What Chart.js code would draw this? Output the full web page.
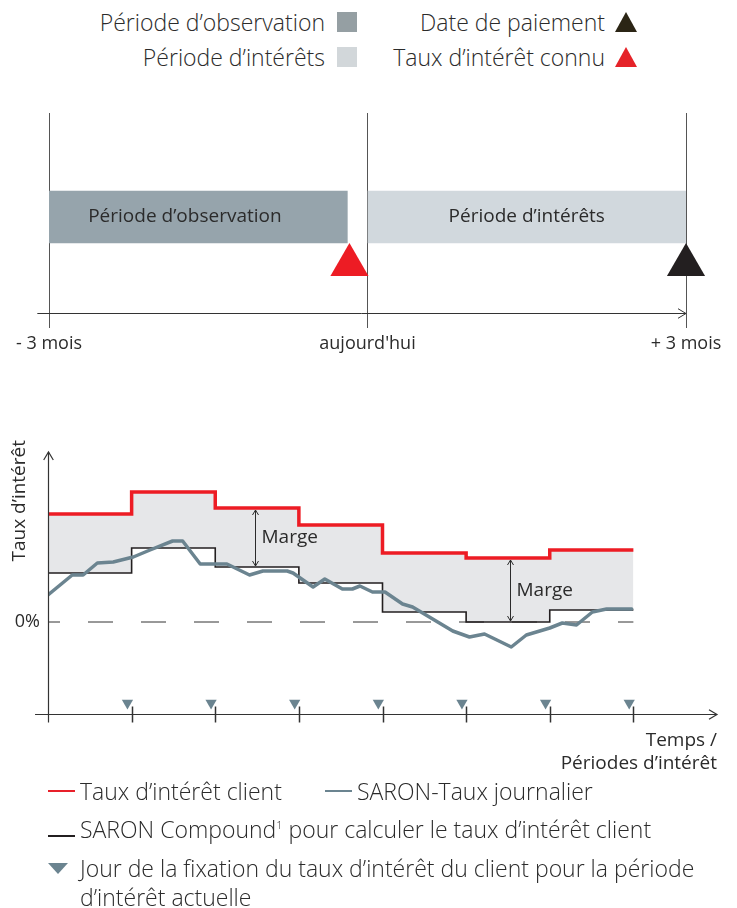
<!DOCTYPE html>
<html lang="fr">
<head>
<meta charset="utf-8">
<script src="https://cdn.jsdelivr.net/npm/chart.js@4.4.0/dist/chart.umd.min.js"></script>
<style>
  body { margin: 0; background: #fff; font-family: "Open Sans", sans-serif; color: #2b2b2b; }
  #page { position: relative; width: 737px; height: 908px; overflow: hidden; }
  .box { position: absolute; }
  .row { position: absolute; display: flex; align-items: center; font-size: 23px; line-height: 26px; white-space: nowrap; font-weight: 300; }
  .sq { width: 20px; height: 20px; display: inline-block; }
  .tri-up { width: 0; height: 0; border-left: 11px solid transparent; border-right: 11px solid transparent; border-bottom: 20px solid; }
  .tri-down { width: 0; height: 0; border-left: 10px solid transparent; border-right: 10px solid transparent; border-top: 11px solid #6b8490; }
  .ln { width: 27px; height: 2px; display: inline-block; }
  sup { font-size: 11px; vertical-align: 9px; line-height: 0; }
</style>
</head>
<body>
<div id="page">
  <!-- top legend -->
  <div class="row" style="right:380px; top:9px; gap:12px;">Période d’observation<span class="sq" style="background:#959fa3"></span></div>
  <div class="row" style="right:380px; top:44px; gap:12px;">Période d’intérêts<span class="sq" style="background:#d2d7da"></span></div>
  <div class="row" style="right:100px; top:9px; gap:10px;">Date de paiement<span class="tri-up" style="border-bottom-color:#2b2515"></span></div>
  <div class="row" style="right:100px; top:44px; gap:10px;">Taux d’intérêt connu<span class="tri-up" style="border-bottom-color:#e52329"></span></div>

  <div class="box" style="left:0; top:100px;"><canvas id="timeline" width="737" height="260"></canvas></div>
  <div class="box" style="left:0; top:440px;"><canvas id="rates" width="737" height="340"></canvas></div>

  <!-- bottom legend -->
  <div class="row" style="left:48px; top:778px; gap:5px;"><span class="ln" style="background:#e8202a"></span><span>Taux d’intérêt client</span></div>
  <div class="row" style="left:325px; top:778px; gap:5px;"><span class="ln" style="background:#6b8490"></span><span>SARON-Taux journalier</span></div>
  <div class="row" style="left:48px; top:816px; gap:5px;"><span class="ln" style="background:#231f20; margin-top:14px"></span><span>SARON Compound<sup>1</sup> pour calculer le taux d’intérêt client</span></div>
  <div class="row" style="left:48px; top:855px; gap:12px;"><span class="tri-down"></span><span>Jour de la fixation du taux d’intérêt du client pour la période</span></div>
  <div class="row" style="left:80px; top:884px;">d’intérêt actuelle</div>
</div>

<script>
Chart.defaults.font.family = "'Open Sans', sans-serif";
Chart.defaults.color = '#2b2b2b';

// ---- timeline data (months around today)
const monthTicks = [-3, 0, 3];
const monthLabels = ['- 3 mois', "aujourd'hui", '+ 3 mois'];
const periodNames = ['Période d’observation', 'Période d’intérêts'];
const periodStart = [-3, 0];
const periodEnd = [-0.19, 3];
const periodLabelAt = [-1.72, 1.5];
const eventMonths = [-0.17, 3];

// ---- interest rate data (x = interest periods, y = rate)
const periods = [0, 1, 2, 3, 4, 5, 6, 7];
const clientRate = [2.16, 2.6, 2.28, 1.94, 1.38, 1.28, 1.44];
const saronCompound = [0.98, 1.48, 1.1, 0.78, 0.2, 0, 0.24];
const saronDays = [0, 0.29, 0.42, 0.59, 0.78, 1.02, 1.22, 1.49, 1.61, 1.82, 2.14, 2.41, 2.57, 2.86, 2.93,
  3.17, 3.31, 3.52, 3.64, 3.73, 3.88, 4.03, 4.24, 4.36, 4.84, 5.04, 5.22, 5.54, 5.72, 6.0, 6.15, 6.32,
  6.51, 6.68, 6.98];
const saronDaily = [0.54, 0.94, 0.94, 1.18, 1.2, 1.3, 1.44, 1.62, 1.62, 1.16, 1.16, 0.94, 1.02, 1.02, 0.98,
  0.7, 0.86, 0.66, 0.66, 0.72, 0.6, 0.6, 0.36, 0.3, -0.18, -0.3, -0.24, -0.5, -0.26, -0.12, -0.02, -0.06,
  0.2, 0.26, 0.26];
const fixingDays = [1, 2, 3, 4, 5, 6, 7];
const marginAt = [2.47, 5.52];
const marginPeriod = [2, 5];

function stepPoints(levels) {
  return periods.map((p, i) => ({ x: p, y: levels[Math.min(i, levels.length - 1)] }));
}

function chevron(ctx, x, y, dx, dy, s) {
  // open arrow head pointing along (dx, dy)
  const px = -dy, py = dx;
  ctx.beginPath();
  ctx.moveTo(x - dx * s + px * s * 0.6, y - dy * s + py * s * 0.6);
  ctx.lineTo(x, y);
  ctx.lineTo(x - dx * s - px * s * 0.6, y - dy * s - py * s * 0.6);
  ctx.stroke();
}

// ---------- timeline chart ----------
const timelineDecor = {
  id: 'timelineDecor',
  afterDatasetsDraw(chart) {
    const { ctx, scales: { x, y } } = chart;
    const meta = chart.getDatasetMeta(0);
    ctx.save();
    ctx.font = "19px 'Open Sans', sans-serif";
    ctx.fillStyle = '#2b2b2b';
    ctx.textAlign = 'center';
    ctx.textBaseline = 'middle';
    meta.data.forEach((bar, i) => {
      ctx.fillText(periodNames[i], x.getPixelForValue(periodLabelAt[i]), bar.y);
    });
    // time axis with arrow
    const ay = y.getPixelForValue(0) + 0.5;
    ctx.strokeStyle = '#333';
    ctx.lineWidth = 1;
    ctx.beginPath();
    ctx.moveTo(x.getPixelForValue(-3.11), ay);
    ctx.lineTo(x.getPixelForValue(3), ay);
    ctx.stroke();
    chevron(ctx, x.getPixelForValue(3), ay, 1, 0, 8);
    ctx.restore();
  }
};

new Chart(document.getElementById('timeline'), {
  type: 'scatter',
  data: {
    datasets: [{
      type: 'bar',
      indexAxis: 'y',
      data: periodStart.map((s, i) => ({ x: [s, periodEnd[i]], y: 4.8 })),
      backgroundColor: ['#96a4ac', '#d1d8dd'],
      barThickness: 52,
      order: 2
    }, {
      type: 'scatter',
      data: eventMonths.map(m => ({ x: m, y: 2.4 })),
      pointStyle: 'triangle',
      pointRadius: 22,
      pointHoverRadius: 22,
      borderWidth: 0,
      backgroundColor: ['#ed1c24', '#231f20'],
      clip: false,
      order: 1
    }]
  },
  options: {
    responsive: false,
    animation: false,
    events: [],
    layout: { autoPadding: false, padding: { left: 49, right: 51, top: 13, bottom: 0 } },
    plugins: { legend: { display: false }, tooltip: { enabled: false } },
    scales: {
      x: {
        type: 'linear', min: -3, max: 3,
        afterBuildTicks: s => { s.ticks = monthTicks.map(v => ({ value: v })); },
        afterFit: s => { s.height = 47; s.paddingLeft = 0; s.paddingRight = 0; },
        border: { display: false },
        grid: { color: '#555', lineWidth: 1, tickLength: 15, drawOnChartArea: true },
        ticks: {
          autoSkip: false, maxRotation: 0, padding: 5,
          font: { size: 18 }, color: '#2b2b2b',
          callback: (v, i) => monthLabels[i]
        }
      },
      y: { type: 'linear', min: 0, max: 10, display: false, offset: false, grid: { offset: false } }
    }
  },
  plugins: [timelineDecor]
});

// ---------- interest rate chart ----------
const rateDecor = {
  id: 'rateDecor',
  afterDraw(chart) {
    const { ctx, chartArea, scales: { x, y } } = chart;
    const bx = x.getPixelForValue(0) + 0.5;
    const by = chartArea.bottom + 0.5;
    ctx.save();
    ctx.strokeStyle = '#333';
    ctx.lineWidth = 1.2;
    // x axis
    ctx.beginPath();
    ctx.moveTo(x.getPixelForValue(-0.155), by);
    ctx.lineTo(x.getPixelForValue(8), by);
    ctx.stroke();
    chevron(ctx, x.getPixelForValue(8), by, 1, 0, 8);
    // y axis
    const top = y.getPixelForValue(3.4);
    ctx.beginPath();
    ctx.moveTo(bx, by + 8);
    ctx.lineTo(bx, top);
    ctx.stroke();
    chevron(ctx, bx, top, 0, -1, 8);
    // period ticks
    ctx.lineWidth = 1.5;
    x.ticks.forEach(t => {
      if (t.value < 1 || t.value > 7) return;
      const px = Math.round(x.getPixelForValue(t.value)) + 0.5;
      ctx.beginPath();
      ctx.moveTo(px, by - 8);
      ctx.lineTo(px, by + 8);
      ctx.stroke();
    });
    // margin arrows
    ctx.lineWidth = 1;
    ctx.strokeStyle = '#2b2b2b';
    ctx.fillStyle = '#2b2b2b';
    ctx.font = "19px 'Open Sans', sans-serif";
    ctx.textBaseline = 'middle';
    marginAt.forEach((m, i) => {
      const p = marginPeriod[i];
      const mx = Math.round(x.getPixelForValue(m)) + 0.5;
      const y1 = y.getPixelForValue(clientRate[p]) + 2;
      const y2 = y.getPixelForValue(saronCompound[p]) - 1;
      ctx.beginPath();
      ctx.moveTo(mx, y1);
      ctx.lineTo(mx, y2);
      ctx.stroke();
      chevron(ctx, mx, y1, 0, -1, 5);
      chevron(ctx, mx, y2, 0, 1, 5);
      ctx.fillText('Marge', mx + 6, (y1 + y2) / 2);
    });
    ctx.restore();
  }
};

new Chart(document.getElementById('rates'), {
  type: 'line',
  data: {
    datasets: [{
      label: 'Taux d’intérêt client',
      data: stepPoints(clientRate),
      stepped: true,
      borderColor: '#ed1c24',
      borderWidth: 3.5,
      backgroundColor: '#e6e7e9',
      fill: 2,
      pointRadius: 0
    }, {
      label: 'SARON-Taux journalier',
      data: saronDays.map((d, i) => ({ x: d, y: saronDaily[i] })),
      borderColor: '#6b8490',
      borderWidth: 3.5,
      borderJoinStyle: 'round',
      borderCapStyle: 'round',
      pointRadius: 0,
      fill: false
    }, {
      label: 'SARON Compound',
      data: stepPoints(saronCompound),
      stepped: true,
      borderColor: '#231f20',
      borderWidth: 1.6,
      pointRadius: 0,
      fill: false
    }, {
      label: '0%',
      data: [{ x: 0, y: 0 }, { x: 7, y: 0 }],
      borderColor: '#333',
      borderWidth: 1,
      borderDash: [25, 28],
      borderDashOffset: 13,
      pointRadius: 0,
      fill: false
    }, {
      label: 'Fixation',
      data: fixingDays.map(d => ({ x: d - 0.05, y: -1.62 })),
      showLine: false,
      pointStyle: 'triangle',
      rotation: 180,
      pointRadius: 6.5,
      borderWidth: 0,
      backgroundColor: '#6b8490'
    }]
  },
  options: {
    responsive: false,
    animation: false,
    events: [],
    layout: { autoPadding: false, padding: { left: 0, right: 20, top: 0, bottom: 0 } },
    plugins: {
      legend: { display: false },
      tooltip: { enabled: false },
      filler: { drawTime: 'beforeDatasetsDraw' }
    },
    scales: {
      x: {
        type: 'linear', min: 0, max: 8,
        afterFit: s => { s.height = 66; s.paddingLeft = 0; s.paddingRight = 0; },
        ticks: { display: false, stepSize: 1 },
        grid: { display: false },
        border: { display: false },
        title: {
          display: true,
          text: ['Temps /', 'Périodes d’intérêt'],
          align: 'end',
          font: { size: 19, lineHeight: 1.2 },
          color: '#2b2b2b',
          padding: { top: 0, bottom: 5 }
        }
      },
      y: {
        type: 'linear', min: -1.84, max: 3.64,
        afterFit: s => { s.width = 48; s.paddingTop = 0; s.paddingBottom = 0; },
        afterBuildTicks: s => { s.ticks = [{ value: 0 }]; },
        ticks: { padding: 8, font: { size: 18 }, color: '#2b2b2b', callback: () => '0%' },
        grid: { display: false, drawTicks: false },
        border: { display: false },
        title: {
          display: true,
          text: 'Taux d’intérêt',
          align: 'end',
          font: { size: 19 },
          color: '#2b2b2b',
          padding: { top: 8, bottom: 0 }
        }
      }
    }
  },
  plugins: [rateDecor]
});
</script>
</body>
</html>
